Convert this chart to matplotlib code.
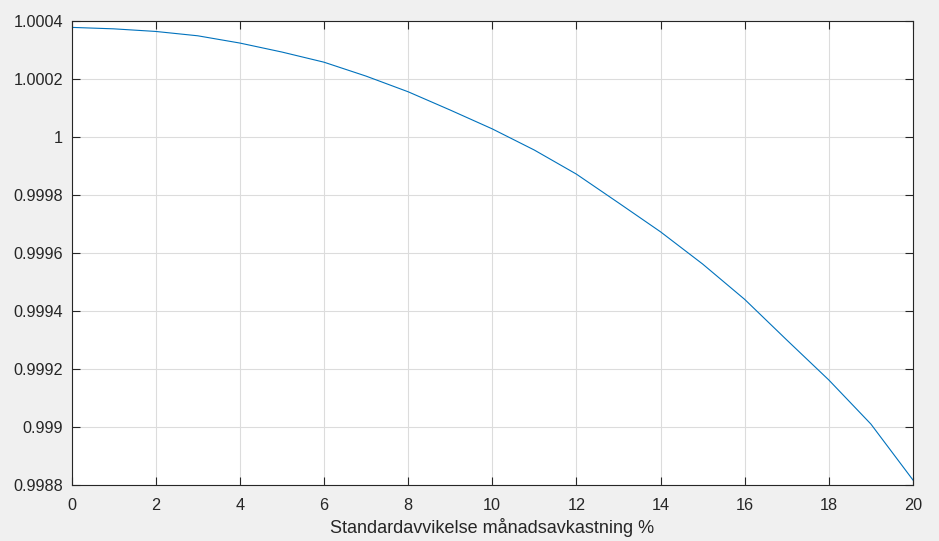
import matplotlib
matplotlib.use("Agg")
import matplotlib.pyplot as plt

x_vals = list(range(0, 21))
y_vals = [1.000378, 1.000373, 1.000364, 1.000349, 1.000324, 1.000293, 1.000258,
          1.000210, 1.000156, 1.000093, 1.000028, 0.999955, 0.999872, 0.999773,
          0.999673, 0.999562, 0.999440, 0.999300, 0.999162, 0.999010, 0.998817]

x_ticks = list(range(0, 21, 2))
y_ticks = [0.9988, 0.999, 0.9992, 0.9994, 0.9996, 0.9998, 1.0, 1.0002, 1.0004]
y_tick_labels = ["0.9988", "0.999", "0.9992", "0.9994", "0.9996", "0.9998", "1", "1.0002", "1.0004"]
x_label = "Standardavvikelse månadsavkastning %"

plt.rcParams['font.family'] = ['Liberation Sans', 'DejaVu Sans']

W, H = 939, 541
fig = plt.figure(figsize=(W / 100, H / 100), dpi=100, facecolor='#F0F0F0')
ax = fig.add_axes([71.5 / W, 1 - 485 / H, (913 - 71.5) / W, (485 - 21) / H])
ax.set_facecolor('white')

ax.plot(x_vals, y_vals, color='#0072BD', linewidth=0.8)

ax.set_xlim(0, 20)
ax.set_ylim(0.9988, 1.0004)
ax.set_xticks(x_ticks)
ax.set_xticklabels([str(t) for t in x_ticks])
ax.set_yticks(y_ticks)
ax.set_yticklabels(y_tick_labels)

ax.grid(True, color='#DCDCDC', linewidth=0.8)
ax.set_axisbelow(True)
ax.tick_params(direction='in', length=5.5, width=0.8, colors='#262626',
               top=True, right=True, labelsize=11.7)
ax.tick_params(axis='x', pad=9)
ax.tick_params(axis='y', pad=6)
for s in ax.spines.values():
    s.set_color('#262626')
    s.set_linewidth(0.8)

ax.set_xlabel(x_label, fontsize=13, color='#262626', labelpad=4)

fig.savefig('out.png', dpi=100, facecolor=fig.get_facecolor())
